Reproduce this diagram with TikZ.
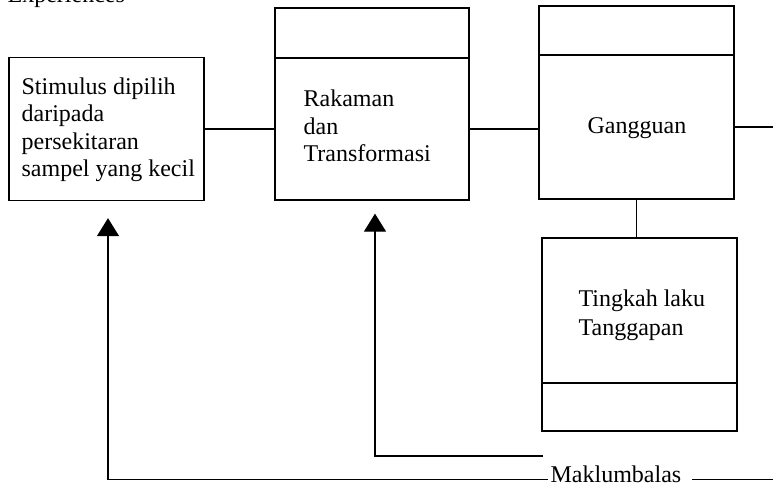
\documentclass[tikz,border=0pt]{standalone}
\usepackage{fontspec}
\setmainfont{Liberation Serif}
\usetikzlibrary{arrows.meta}

\begin{document}
\begin{tikzpicture}[x=1pt, y=-1pt, line width=1.3pt,
  kotak/.style={draw, inner sep=0pt, minimum width=195pt},
  teks/.style={inner sep=0pt, align=left, font=\fontsize{24}{27.5}\selectfont},
  balik/.style={-{Triangle[width=22pt,length=18pt]}}]
\useasboundingbox (0,0) rectangle (773,485);
%Tajuk
\node[teks, anchor=base west] (pengalaman) at (7,2) {Experiences};
%Kotak
\node[kotak, minimum height=143pt] (stimulus) at (106.5,129) {};
\node[kotak, minimum width=194pt, minimum height=50pt] (rakamankepala) at (372,33) {};
\node[kotak, minimum width=194pt, minimum height=142pt] (rakaman) at (372,129) {};
\node[kotak, minimum height=49pt] (gangguankepala) at (636.5,30.5) {};
\node[kotak, minimum height=144pt] (gangguan) at (636.5,127) {};
\node[kotak, minimum height=145pt] (tingkah) at (639.5,310.5) {};
\node[kotak, minimum height=48pt] (tingkahkaki) at (639.5,407) {};
%Teks
\node[teks, anchor=west] (stimulusteks) at (21,130) {Stimulus dipilih\\daripada\\persekitaran\\sampel yang kecil};
\node[teks, anchor=west] (rakamanteks) at (303,126) {Rakaman\\dan\\Transformasi};
\node[teks, anchor=base west] (gangguanteks) at (587,133) {Gangguan};
\node[teks, anchor=west, font=\fontsize{24}{29}\selectfont] (tingkahteks) at (578,315) {Tingkah laku\\Tanggapan};
\node[teks, anchor=base west] (maklum) at (550,482) {Maklumbalas};
\coordinate (kanan) at (773,127);
\coordinate (balas) at (543,456);
\coordinate (hujung) at (773,480);
%Garis
\draw (stimulus) -- (rakaman);
\draw (rakaman.east) -- (rakaman.east -| gangguan.west);
\draw (gangguan.east) -- (kanan);
\draw (gangguan.south) -- (gangguan.south |- tingkah.north);
%Maklumbalas
\draw[balik] ([xshift=-2pt]maklum.mid west) -| ([xshift=1.5pt,yshift=-17pt]stimulus.south);
\draw[balik] (balas) -| ([xshift=3pt,yshift=-13pt]rakaman.south);
\draw ([xshift=10pt]maklum.mid east) -- (maklum.mid east -| hujung);
\end{tikzpicture}
\end{document}
